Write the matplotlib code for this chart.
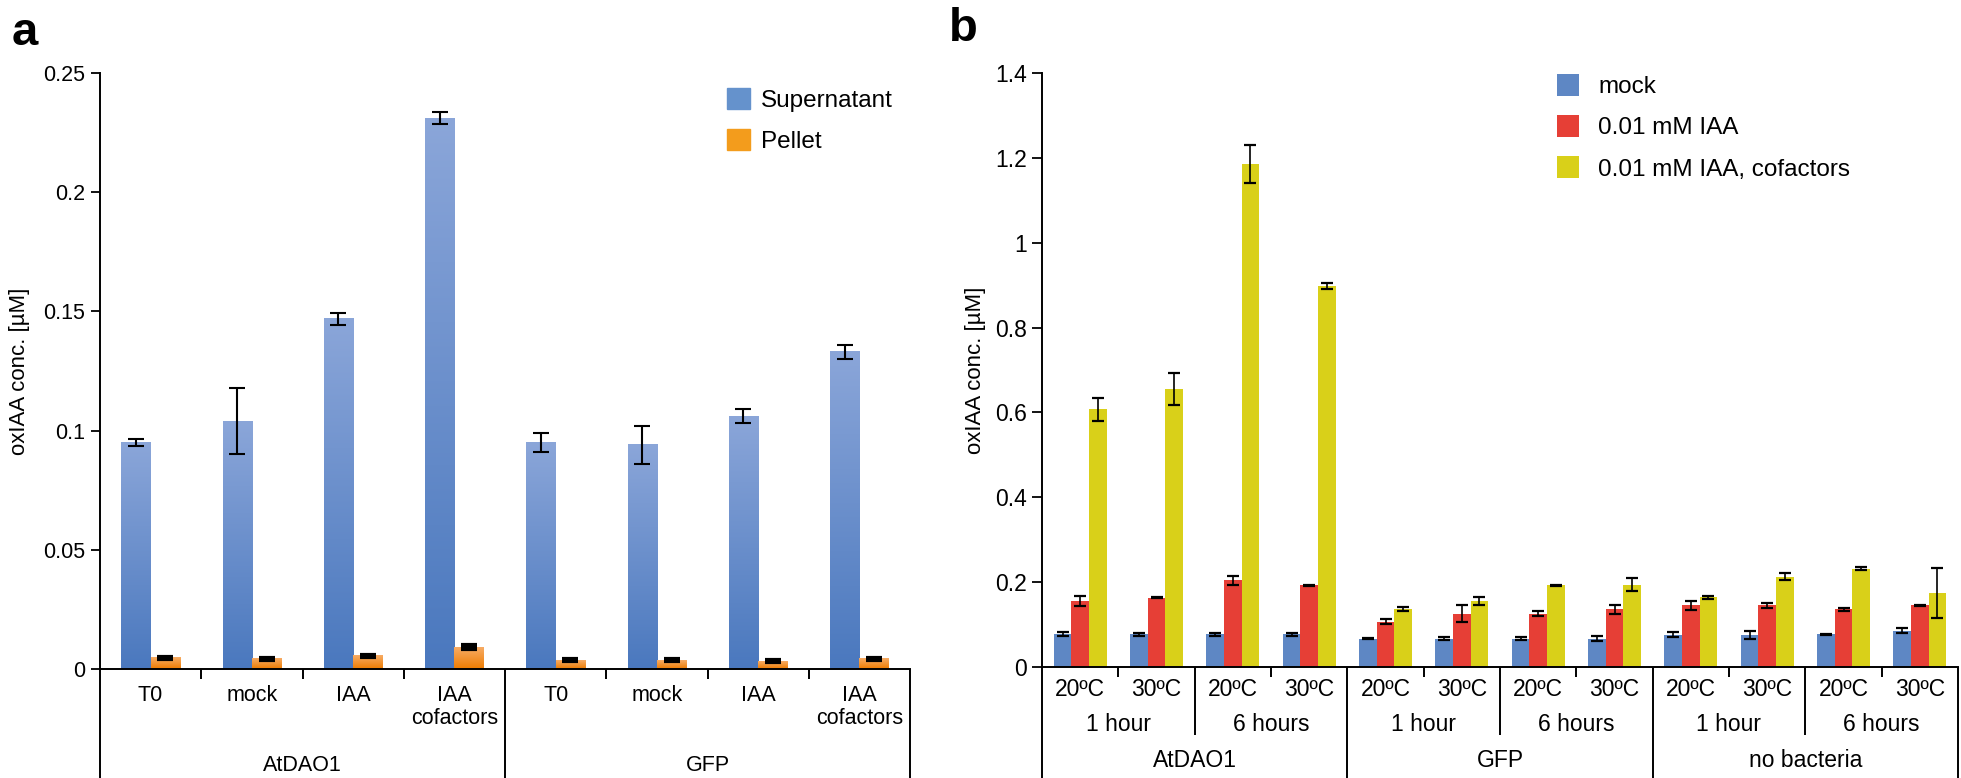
import matplotlib

matplotlib.use("Agg")
import matplotlib.pyplot as plt  # noqa: E402
import numpy as np  # noqa: E402
from matplotlib.colors import LinearSegmentedColormap  # noqa: E402
from matplotlib.patches import Patch  # noqa: E402

plt.rcParams["font.family"] = ["Liberation Sans", "DejaVu Sans"]
plt.rcParams["font.size"] = 16

# ---- panel a data ----
a_treatments = ["T0", "mock", "IAA", "IAA\ncofactors"] * 2
a_strains = ["AtDAO1", "GFP"]
supernatant = [0.095, 0.104, 0.147, 0.231, 0.095, 0.094, 0.106, 0.133]
supernatant_err = [0.0015, 0.014, 0.0025, 0.0025, 0.004, 0.008, 0.003, 0.003]
pellet = [0.0047, 0.0042, 0.0056, 0.0092, 0.0036, 0.0036, 0.0033, 0.0042]
pellet_err = [0.0004, 0.0004, 0.0004, 0.0009, 0.0004, 0.0004, 0.0004, 0.0004]

# ---- panel b data ----
b_temps = ["20ºC", "30ºC"] * 6
b_times = ["1 hour", "6 hours"] * 3
b_strains = ["AtDAO1", "GFP", "no bacteria"]
mock = [0.077, 0.077, 0.077, 0.077, 0.067, 0.067, 0.067, 0.067, 0.076, 0.076, 0.077, 0.086]
mock_err = [0.005, 0.004, 0.004, 0.004, 0.001, 0.004, 0.004, 0.005, 0.006, 0.010, 0.001, 0.005]
iaa = [0.155, 0.163, 0.204, 0.193, 0.107, 0.126, 0.126, 0.136, 0.145, 0.145, 0.136, 0.145]
iaa_err = [0.012, 0.001, 0.010, 0.001, 0.006, 0.019, 0.005, 0.010, 0.010, 0.005, 0.003, 0.001]
iaa_cof = [0.607, 0.655, 1.185, 0.898, 0.136, 0.155, 0.193, 0.194, 0.164, 0.213, 0.232, 0.174]
iaa_cof_err = [0.028, 0.038, 0.045, 0.008, 0.005, 0.010, 0.001, 0.015, 0.003, 0.008, 0.004, 0.059]

W, H = 1961, 778
fig = plt.figure(figsize=(W / 100, H / 100), dpi=100)
PX = 72 / 100  # points per pixel


def gradient_bars(ax, bars, top, bottom):
    cmap = LinearSegmentedColormap.from_list("g", [bottom, top])
    grad = np.linspace(0, 1, 256).reshape(-1, 1)
    for b in bars:
        x, w, h = b.get_x(), b.get_width(), b.get_height()
        ax.imshow(grad, extent=[x, x + w, 0, h], origin="lower",
                  aspect="auto", cmap=cmap, zorder=2)
        b.set_facecolor("none")


def style_axis(ax, ylim, ticks, fs):
    for s in ["top", "right"]:
        ax.spines[s].set_visible(False)
    for s in ["left", "bottom"]:
        ax.spines[s].set_linewidth(1.4)
    ax.set_ylim(*ylim)
    ax.set_yticks(ticks)
    ax.set_yticklabels([f"{t:g}" for t in ticks], fontsize=fs)
    ax.set_xticks([])


def vline(ax, x, px_down, ax_h_px, lw=1.4):
    ax.plot([x, x], [0, -px_down / ax_h_px], color="black", lw=lw,
            transform=ax.get_xaxis_transform(), clip_on=False,
            solid_capstyle="butt")


def label(ax, x, px_down, text, fs):
    ax.annotate(text, xy=(x, 0), xycoords=ax.get_xaxis_transform(),
                xytext=(0, -px_down * PX), textcoords="offset points",
                ha="center", va="top", linespacing=1.15, fontsize=fs)


# ================= panel a =================
a_l, a_r, a_t, a_b = 100, 910, 73, 669
axa = fig.add_axes([a_l / W, 1 - a_b / H, (a_r - a_l) / W, (a_b - a_t) / H])
ah = a_b - a_t
xa = np.arange(len(supernatant))
bw = 0.29
b1 = axa.bar(xa - bw / 2, supernatant, bw, linewidth=0)
b2 = axa.bar(xa + bw / 2, pellet, bw, linewidth=0)
gradient_bars(axa, b1, "#8ba6d9", "#4a78be")
gradient_bars(axa, b2, "#f7ac66", "#ee7c00")
axa.errorbar(xa - bw / 2, supernatant, yerr=supernatant_err, fmt="none",
             ecolor="black", elinewidth=1.5, capsize=5.5, capthick=1.5, zorder=5)
axa.errorbar(xa + bw / 2, pellet, yerr=pellet_err, fmt="none",
             ecolor="black", elinewidth=1.5, capsize=6, capthick=3, zorder=5)
axa.set_xlim(-0.5, len(xa) - 0.5)
style_axis(axa, (0, 0.25), [0, 0.05, 0.1, 0.15, 0.2, 0.25], 15.5)
axa.tick_params(axis="y", length=6.5, width=1.3, pad=4.3)
axa.set_ylabel("oxIAA conc. [µM]", fontsize=16)
axa.yaxis.set_label_coords(-(a_l - 30) / (a_r - a_l), 0.5)

for i, t in enumerate(a_treatments):
    label(axa, i, 16, t, 15.5)
    if i % 4 != 0:
        vline(axa, i - 0.5, 10, ah)
for g, s in enumerate(a_strains):
    label(axa, g * 4 + 1.5, 86, s, 15.5)
for x in [-0.5, 3.5, 7.5]:
    vline(axa, x, H - a_b, ah)

axa.legend(handles=[Patch(color="#6592cc", label="Supernatant"),
                    Patch(color="#f39c1c", label="Pellet")],
           loc="upper left", bbox_to_anchor=(727 / W, 1 - 88 / H),
           bbox_transform=fig.transFigure, frameon=False, borderpad=0,
           borderaxespad=0, fontsize=17.5,
           handlelength=0.95, handleheight=0.95, handletextpad=0.45,
           labelspacing=0.72)

# ================= panel b =================
b_l, b_r, b_t, b_b = 1042, 1958, 73, 667
axb = fig.add_axes([b_l / W, 1 - b_b / H, (b_r - b_l) / W, (b_b - b_t) / H])
bh = b_b - b_t
xb = np.arange(len(mock))
w = 0.23
series = [(mock, mock_err, "#5e87c4", "mock"),
          (iaa, iaa_err, "#e63f36", "0.01 mM IAA"),
          (iaa_cof, iaa_cof_err, "#d9d019", "0.01 mM IAA, cofactors")]
for k, (vals, err, col, name) in enumerate(series):
    pos = xb + (k - 1) * w
    axb.bar(pos, vals, w, color=col, linewidth=0, label=name, zorder=2)
    axb.errorbar(pos, vals, yerr=err, fmt="none", ecolor="black",
                 elinewidth=1.2, capsize=4.5, capthick=1.6, zorder=5)
axb.set_xlim(-0.5, len(xb) - 0.5)
style_axis(axb, (0, 1.4), [0, 0.2, 0.4, 0.6, 0.8, 1, 1.2, 1.4], 16.5)
axb.tick_params(axis="y", length=7.2, width=1.3, pad=3.6)
axb.set_ylabel("oxIAA conc. [µM]", fontsize=16)
axb.yaxis.set_label_coords(-(b_l - 986) / (b_r - b_l), 0.5)

for i, t in enumerate(b_temps):
    label(axb, i, 11, t, 16.5)
    if i % 2 == 1:
        vline(axb, i - 0.5, 10, bh)
for j, t in enumerate(b_times):
    label(axb, j * 2 + 0.5, 46, t, 16.5)
    if j % 2 == 1:
        vline(axb, j * 2 - 0.5, 68, bh)
for g, s in enumerate(b_strains):
    label(axb, g * 4 + 1.5, 82, s, 16.5)
for x in [-0.5, 3.5, 7.5, 11.5]:
    vline(axb, x, H - b_b, bh)

axb.legend(loc="upper left", bbox_to_anchor=(1557 / W, 1 - 74 / H),
           bbox_transform=fig.transFigure, frameon=False, borderpad=0,
           borderaxespad=0, fontsize=17.5,
           handlelength=0.9, handleheight=1.0, handletextpad=0.8,
           labelspacing=0.7)

fig.text(25 / W, 1 - 33 / H, "a", fontsize=34, fontweight="bold",
         ha="center", va="center")
fig.text(963 / W, 1 - 29 / H, "b", fontsize=34, fontweight="bold",
         ha="center", va="center")

fig.savefig("out.png", dpi=100)
plt.close(fig)
